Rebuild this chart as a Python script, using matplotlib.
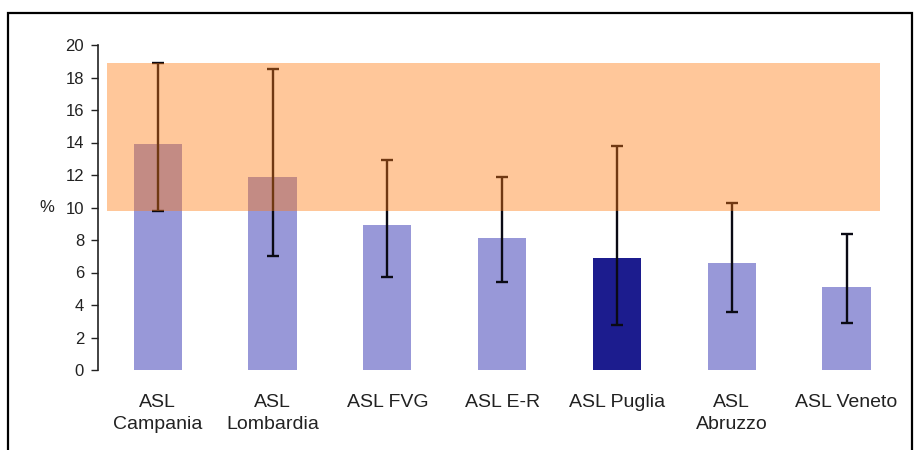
import matplotlib
matplotlib.use("Agg")
import matplotlib.pyplot as plt
from matplotlib.patches import Rectangle

categories = ["ASL\nCampania", "ASL\nLombardia", "ASL FVG", "ASL E-R", "ASL Puglia", "ASL\nAbruzzo", "ASL Veneto"]
values = [13.9, 11.9, 8.9, 8.1, 6.9, 6.6, 5.1]
err_low = [9.8, 7.0, 5.7, 5.4, 2.8, 3.6, 2.9]
err_high = [18.9, 18.5, 12.9, 11.9, 13.8, 10.3, 8.4]
highlight = "ASL Puglia"
band_low, band_high = 9.8, 18.9
yticks = [0, 2, 4, 6, 8, 10, 12, 14, 16, 18, 20]

plt.rcParams['font.family'] = ['Liberation Sans', 'DejaVu Sans']

W, H = 915, 450
fig = plt.figure(figsize=(W / 100, H / 100), dpi=100)
ax = fig.add_axes([98 / W, 80 / H, 806 / W, 325 / H])

x = list(range(len(categories)))
colors = ["#1c1c8e" if c == highlight else "#9898d8" for c in categories]
ax.bar(x, values, width=0.42, color=colors, zorder=1)
yerr = [[v - l for v, l in zip(values, err_low)], [h - v for v, h in zip(values, err_high)]]
ax.errorbar(x, values, yerr=yerr, fmt='none', ecolor='#0a0a14', elinewidth=1.7,
            capsize=4, capthick=1.7, zorder=2)
ax.axhspan(band_low, band_high, xmin=0.011, xmax=0.97, color='#ff7a10', alpha=0.42,
           lw=0, zorder=3)

ax.set_xlim(-0.52, 6.5)
ax.set_ylim(0, 20)
ax.set_yticks(yticks)
ax.set_xticks(x)
ax.set_xticklabels(categories, fontsize=14, color='#222222', linespacing=1.4)
ax.tick_params(axis='x', length=0, pad=17)
ax.tick_params(axis='y', length=5, width=1, labelsize=12, labelcolor='#222222', pad=5,
               direction='out', color='#222222')
for s in ['top', 'right', 'bottom']:
    ax.spines[s].set_visible(False)
ax.spines['left'].set_color('#222222')
ax.spines['left'].set_linewidth(1.2)
ax.set_ylabel('%', rotation=0, fontsize=12, color='#222222')
ax.yaxis.set_label_coords(-0.064, 0.5)
ax.yaxis.label.set_verticalalignment('center')

fig.patches.append(Rectangle((8 / W, -0.1), 904 / W, 1.1 - 13 / H, transform=fig.transFigure,
                             fill=False, edgecolor='black', linewidth=1.6))

fig.savefig("out.png", dpi=100)
